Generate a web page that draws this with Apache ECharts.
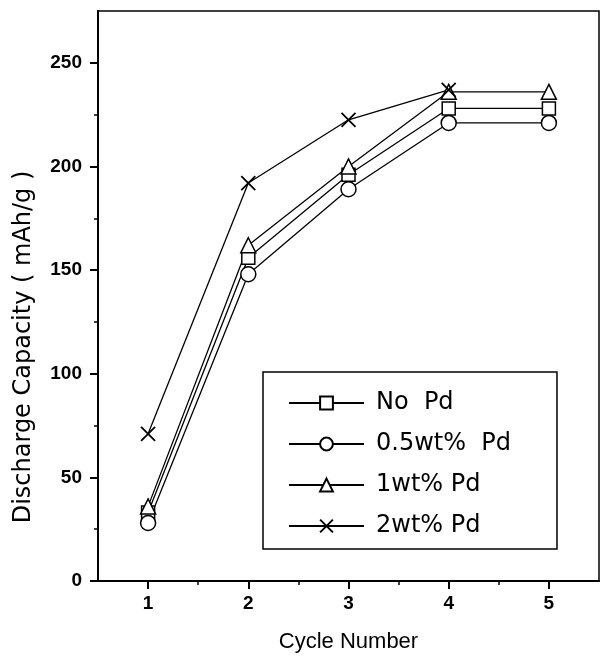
<!DOCTYPE html>
<html>
<head>
<meta charset="utf-8">
<script src="https://cdn.jsdelivr.net/npm/echarts@6/dist/echarts.min.js"></script>
<style>
  html, body { margin: 0; padding: 0; background: #fff; }
  #chart { width: 602px; height: 659px; }
</style>
</head>
<body>
<div id="chart"></div>
<script>
// 数据
var cycles = [1, 2, 3, 4, 5];
var noPd = [33, 156, 196, 228, 228];
var pd05 = [28, 148, 189, 221, 221];
var pd1 = [36, 162, 200, 236, 236];
var pd2 = [71, 192, 222.5, 237];
var seriesNames = ["No  Pd", "0.5wt%  Pd", "1wt% Pd", "2wt% Pd"];
var xTicks = [1, 2, 3, 4, 5];
var xMinorTicks = [1.5, 2.5, 3.5, 4.5];
var yTicks = [0, 50, 100, 150, 200, 250];
var yMinorTicks = [25, 75, 125, 175, 225];

function pairs(vals) {
  return vals.map(function(v, i) { return [cycles[i], v]; });
}

var chart = echarts.init(document.getElementById("chart"));

var hollow = { color: "#fff", borderColor: "#000", borderWidth: 1.5 };
var line = { color: "#000", width: 1.3 };

function makeSeries(name, vals, symbol, size, style) {
  return {
    name: name,
    type: "line",
    xAxisIndex: 0,
    yAxisIndex: 0,
    data: pairs(vals),
    symbol: symbol,
    symbolSize: size,
    showAllSymbol: true,
    itemStyle: style,
    lineStyle: line,
    emphasis: { disabled: true },
    animation: false
  };
}

var option = {
  animation: false,
  grid: {
    left: 98, right: 3, top: 11, bottom: 78,
    show: true, borderColor: "#000", borderWidth: 1.5,
    outerBoundsMode: "none"
  },
  legend: {
    left: 263, top: 372,
    orient: "vertical",
    width: 270,
    padding: [18, 46, 10, 25],
    borderColor: "#000", borderWidth: 1.5,
    itemWidth: 75, itemHeight: 16, itemGap: 15,
    textStyle: { fontFamily: "DejaVu Sans", fontSize: 24, color: "#000", lineHeight: 26, padding: [0, 0, 0, 7] },
    data: seriesNames
  },
  xAxis: [
    {
      type: "value", min: 0.5, max: 5.5,
      name: "Cycle Number", nameLocation: "middle", nameGap: 50,
      nameTextStyle: { fontFamily: "Liberation Sans", fontSize: 22, color: "#000" },
      axisLine: { lineStyle: { color: "#000", width: 2 } },
      axisTick: { show: true, inside: false, length: 8, customValues: xTicks, lineStyle: { color: "#000", width: 2 } },
      axisLabel: { customValues: xTicks, margin: 13, fontFamily: "Liberation Sans", fontWeight: "bold", fontSize: 19, color: "#000" },
      splitLine: { show: false }
    },
    {
      type: "value", min: 0.5, max: 5.5, position: "bottom",
      axisLine: { show: false },
      axisTick: { show: true, length: 4, customValues: xMinorTicks, lineStyle: { color: "#000", width: 1.5 } },
      axisLabel: { show: false },
      splitLine: { show: false }
    }
  ],
  yAxis: [
    {
      type: "value", min: 0, max: 275,
      name: "Discharge Capacity ( mAh/g )", nameLocation: "middle", nameGap: 62,
      nameTextStyle: { fontFamily: "DejaVu Sans", fontSize: 24, color: "#000", padding: [0, 102, 0, 0] },
      axisLine: { show: true, lineStyle: { color: "#000", width: 2 } },
      axisTick: { show: true, length: 8, customValues: yTicks, lineStyle: { color: "#000", width: 2 } },
      axisLabel: { customValues: yTicks, margin: 16, fontFamily: "Liberation Sans", fontWeight: "bold", fontSize: 19, color: "#000" },
      splitLine: { show: false }
    },
    {
      type: "value", min: 0, max: 275, position: "left",
      axisLine: { show: false },
      axisTick: { show: true, length: 4, customValues: yMinorTicks, lineStyle: { color: "#000", width: 1.5 } },
      axisLabel: { show: false },
      splitLine: { show: false }
    }
  ],
  series: [
    makeSeries(seriesNames[0], noPd, "rect", 13, hollow),
    makeSeries(seriesNames[1], pd05, "circle", 15, hollow),
    makeSeries(seriesNames[2], pd1, "triangle", 15, hollow),
    makeSeries(seriesNames[3], pd2, "path://M0,0L10,10M10,0L0,10", 14, { color: "none", borderColor: "#000", borderWidth: 1.8 })
  ]
};

chart.setOption(option);
</script>
</body>
</html>
